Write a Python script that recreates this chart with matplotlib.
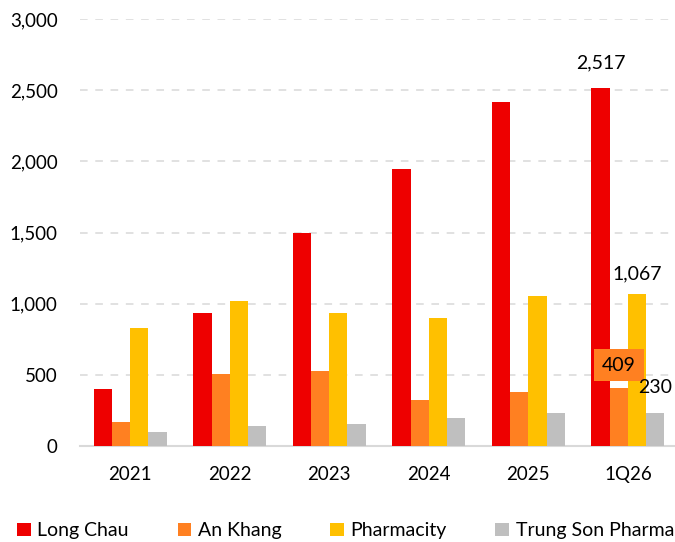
import numpy as np
import matplotlib.pyplot as plt
from matplotlib.patches import Patch

plt.rcParams['font.family'] = ['Lato', 'DejaVu Sans']

periods = ['2021', '2022', '2023', '2024', '2025', '1Q26']
series = ['Long Chau', 'An Khang', 'Pharmacity', 'Trung Son Pharma']
long_chau = [400, 935, 1497, 1947, 2417, 2517]
an_khang = [169, 504, 527, 325, 380, 409]
pharmacity = [830, 1019, 935, 900, 1054, 1067]
trung_son = [100, 140, 155, 200, 232, 230]
colors = ['#EE0000', '#FF8021', '#FFC000', '#BFBFBF']

fig = plt.figure(figsize=(6.75, 5.42), dpi=100)
ax = fig.add_axes([80 / 675, 0.177, 595 / 675, 0.788])

x = np.arange(len(periods))
w = 0.183
all_vals = [long_chau, an_khang, pharmacity, trung_son]
for i, (vals, c) in enumerate(zip(all_vals, colors)):
    ax.bar(x + (i - 1.5) * w, vals, width=w, color=c, zorder=3)

# labels on the last group
last = len(periods) - 1
fs = 14
ax.text(x[last] - 1.5 * w, long_chau[last] + 174, f'{long_chau[last]:,}',
        ha='center', va='center', fontsize=fs)
ax.text(x[last] + 0.5 * w, pharmacity[last] + 142, f'{pharmacity[last]:,}',
        ha='center', va='center', fontsize=fs)
ax.text(x[last] - 0.09, an_khang[last] + 160, f'{an_khang[last]:,}',
        ha='center', va='center', fontsize=fs, zorder=5,
        bbox=dict(boxstyle='square,pad=0.4', fc='#FF8021', ec='none'))
ax.text(x[last] + 1.5 * w, trung_son[last] + 178, f'{trung_son[last]:,}',
        ha='center', va='center', fontsize=fs, zorder=5)

ax.set_xlim(-0.505, 5.474)
ax.set_ylim(0, 3000)
ax.set_yticks(np.arange(0, 3001, 500))
ax.set_yticklabels([f'{v:,}' for v in range(0, 3001, 500)])
ax.set_xticks(x)
ax.set_xticklabels(periods)
ax.tick_params(axis='both', length=0, labelsize=13.5, colors='black')
ax.tick_params(axis='y', pad=16)
ax.tick_params(axis='x', pad=14)
ax.yaxis.grid(True, linestyle=(0, (5, 5)), color='#D9D9D9', linewidth=1.1, zorder=0)
for s in ['top', 'right', 'left']:
    ax.spines[s].set_visible(False)
ax.spines['bottom'].set_color('#D9D9D9')
ax.spines['bottom'].set_linewidth(1.5)

handles = [Patch(facecolor=c, edgecolor='none', label=s) for s, c in zip(series, colors)]
fig.legend(handles=handles, loc='lower center', bbox_to_anchor=(0.512, -0.027), ncol=4,
           frameon=False, fontsize=14, handlelength=0.7, handleheight=0.7,
           handletextpad=0.35, columnspacing=2.5)

fig.savefig('out.png', dpi=100)
